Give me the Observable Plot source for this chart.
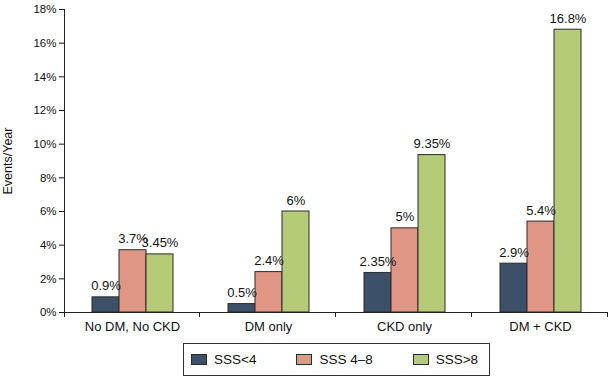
<!DOCTYPE html>
<html><head><meta charset="utf-8">
<script src="https://cdn.jsdelivr.net/npm/d3@7"></script>
<script src="https://cdn.jsdelivr.net/npm/@observablehq/plot@0.6"></script>
<style>
body{margin:0;background:#fff;font-family:"Liberation Sans",Arial,Helvetica,sans-serif;}
#chart{width:610px;}
.legend{display:flex;align-items:center;box-sizing:border-box;border:1px solid #333;height:33px;width:307px;margin:5px 0 0 183px;padding-left:7px;font-size:13.5px;color:#111;}
.item{display:flex;align-items:center;margin-right:40px;}
.item:last-child{margin-right:0;}
.sw{width:16px;height:11px;border:1px solid #2a2a2a;box-sizing:border-box;margin-right:7px;}
</style></head>
<body><div id="chart"></div>
<script>
const groups = ["No DM, No CKD", "DM only", "CKD only", "DM + CKD"];
const series = ["SSS<4", "SSS 4–8", "SSS>8"];
const sssLow = [0.9, 0.5, 2.35, 2.9];
const sssMid = [3.7, 2.4, 5, 5.4];
const sssHigh = [3.45, 6, 9.35, 16.8];
const colors = ["#3c5069", "#df9685", "#b5cb77"];
const yTicks = [0, 2, 4, 6, 8, 10, 12, 14, 16, 18];
const yLabel = "Events/Year";

const seriesValues = [sssLow, sssMid, sssHigh];
const data = groups.flatMap((g, i) => series.map((s, j) => ({group: g, series: s, value: seriesValues[j][i]})));

const chart = Plot.plot({
  width: 610, height: 338,
  marginLeft: 63, marginRight: 2, marginTop: 9, marginBottom: 26,
  style: {fontFamily: "'Liberation Sans', Arial, sans-serif", color: "#111", background: "white"},
  fx: {domain: groups, padding: 0, label: null},
  x: {domain: series, paddingInner: 0, paddingOuter: 0.93, axis: null},
  y: {domain: [yTicks[0], yTicks[yTicks.length - 1]], label: null},
  color: {domain: series, range: colors},
  marks: [
    Plot.axisY({ticks: yTicks, tickFormat: d => d + "%", tickSize: 5, tickPadding: 3, fontSize: 11.5, label: null}),
    Plot.axisY({ticks: [], tickSize: 0, fontSize: 12.5,
      label: yLabel, labelAnchor: "center", labelArrow: "none", labelOffset: 61}),
    Plot.axisFx({anchor: "bottom", tickSize: 0, tickPadding: 9, fontSize: 13, label: null}),
    Plot.barY(data, {fx: "group", x: "series", y: "value", fill: "series", stroke: "#2a2a2a", strokeWidth: 1}),
    Plot.ruleY([0], {stroke: "#222"}),
    Plot.text(data, {fx: "group", x: "series", y: "value", text: d => d.value + "%", dy: -7, lineAnchor: "bottom", fontSize: 13})
  ]
});
document.getElementById("chart").appendChild(chart);

// y-axis line and group-boundary ticks, positioned via Plot's own scales
const fx = chart.scale("fx"), y = chart.scale("y");
const svg = d3.select(chart);
const g = svg.append("g").attr("stroke", "#222").attr("fill", "none");
const x0 = fx.apply(groups[0]) + 0.5;
g.append("line").attr("x1", x0).attr("x2", x0).attr("y1", y.apply(yTicks[yTicks.length - 1])).attr("y2", y.apply(0) + 5);
const edges = groups.map(d => fx.apply(d)).concat([fx.apply(groups[groups.length - 1]) + fx.bandwidth]);
edges.forEach(e => {
  const xe = Math.round(e) - 0.5 + (e === edges[0] ? 1 : 0);
  g.append("line").attr("x1", xe).attr("x2", xe).attr("y1", y.apply(0)).attr("y2", y.apply(0) + 5);
});

// legend
const legend = d3.select("body").append("div").attr("class", "legend");
series.forEach((s, i) => {
  const it = legend.append("div").attr("class", "item");
  it.append("div").attr("class", "sw").style("background", colors[i]);
  it.append("span").text(s);
});
</script>
</body></html>
